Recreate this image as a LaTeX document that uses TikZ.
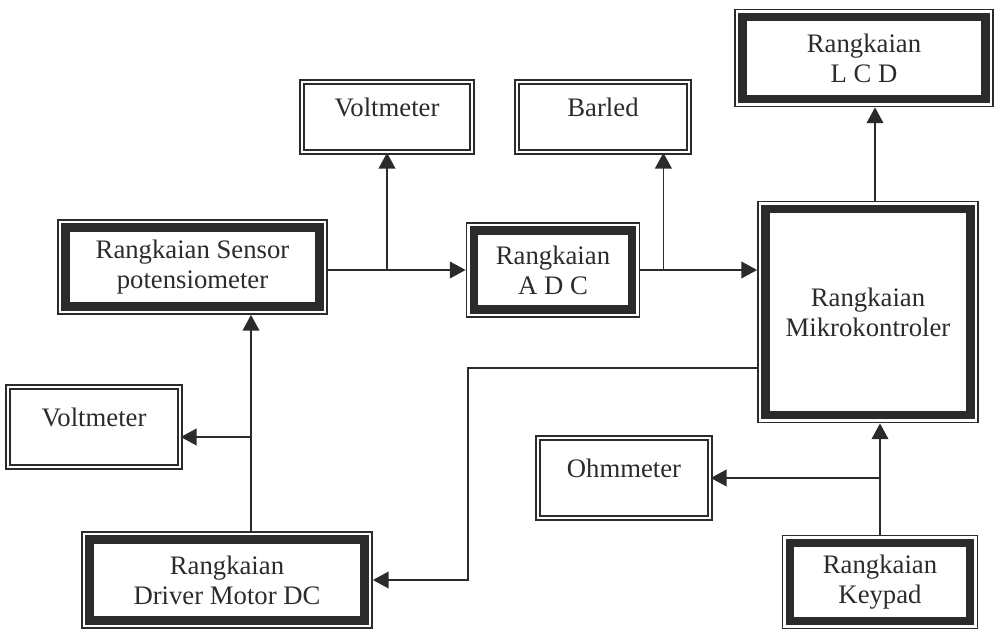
\documentclass[tikz,border=0pt]{standalone}
\usepackage{fontspec}
\setmainfont{Liberation Serif}
\usetikzlibrary{arrows.meta, positioning}

\definecolor{tinta}{HTML}{2B2B2B}

\begin{document}
\begin{tikzpicture}[
    blok/.style={draw=tinta, line width=1pt, align=center, text=tinta,
      font=\fontsize{15.2}{17}\selectfont,
      path picture={\draw[tinta, line width=4.8pt]
        ([shift={(4.2pt,4.2pt)}]path picture bounding box.south west) rectangle
        ([shift={(-4.2pt,-4.2pt)}]path picture bounding box.north east);}},
    meter/.style={draw=tinta, double, double distance=1.4pt, line width=0.9pt,
      text=tinta, font=\fontsize{15.2}{17}\selectfont,
      text height=11pt, text depth=12pt},
    panah/.style={draw=tinta, line width=1pt,
      -{Triangle[length=9pt,width=9.5pt]}}]
  \useasboundingbox (0,0) rectangle (19.92,-12.62);

  % blok utama
  \node[blok, minimum width=5.16cm, minimum height=1.94cm] (lcd) at (17.28,-1.16) {Rangkaian\\L C D};
  \node[blok, minimum width=5.38cm, minimum height=1.88cm] (sensor) at (3.85,-5.34) {Rangkaian Sensor\\potensiometer};
  \node[blok, minimum width=3.46cm, minimum height=1.88cm] (adc) at (11.06,-5.40) {Rangkaian\\A D C};
  \node[blok, minimum width=4.40cm, minimum height=4.42cm] (mikro) at (17.36,-6.24) {Rangkaian\\Mikrokontroler};
  \node[blok, minimum width=5.80cm, minimum height=1.92cm] (driver) at (4.54,-11.60) {Rangkaian\\Driver Motor DC};
  \node[blok, minimum width=3.90cm, minimum height=1.86cm] (keypad) at (17.60,-11.64) {Rangkaian\\Keypad};

  % alat ukur
  \node[meter, minimum width=3.40cm, minimum height=1.40cm] (voltatas) at (7.74,-2.34) {Voltmeter};
  \node[meter, minimum width=3.44cm, minimum height=1.40cm] (barled) at (12.06,-2.34) {Barled};
  \node[meter, minimum width=3.44cm, minimum height=1.60cm] (voltbawah) at (1.88,-8.54) {Voltmeter};
  \node[meter, minimum width=3.44cm, minimum height=1.60cm] (ohm) at (12.48,-9.56) {Ohmmeter};

  % jalur sinyal
  \draw[panah] (sensor.east |- adc.west) -- (adc.west);
  \draw[panah] (voltatas |- adc.west) -- (voltatas.south);
  \draw[panah] (adc.east) -- (adc.east -| mikro.west);
  \coordinate (kebarled) at ([xshift=0.46cm]adc.east);
  \draw[panah] (kebarled) -- (kebarled |- barled.south);
  \draw[panah] ([xshift=0.14cm]mikro.north) -- ([xshift=0.14cm]mikro.north |- lcd.south);
  \draw[panah] (keypad.north) -- (keypad.north |- mikro.south);
  \draw[panah] (ohm.east -| keypad.north) -- (ohm.east);
  \draw[panah] ([yshift=-1.12cm]mikro.west) -| ([xshift=1.9cm]driver.east) -- (driver.east);
  \coordinate (naik) at ([xshift=0.48cm]driver.north);
  \draw[panah] (naik) -- (naik |- sensor.south);
  \draw[panah] ([yshift=-0.2cm]voltbawah.east -| naik) -- ([yshift=-0.2cm]voltbawah.east);
\end{tikzpicture}
\end{document}
